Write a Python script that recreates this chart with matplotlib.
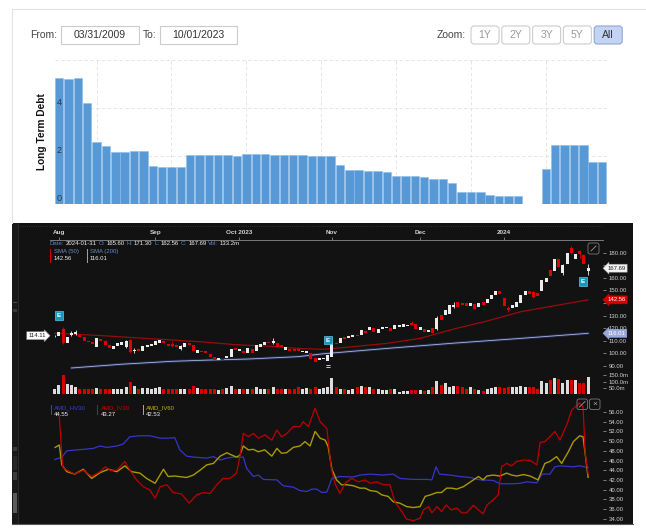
import matplotlib
matplotlib.use("Agg")
import matplotlib.pyplot as plt
import matplotlib.transforms as mtransforms
from matplotlib.patches import FancyBboxPatch
from matplotlib.lines import Line2D
import numpy as np

W, H = 646, 530
plt.rcParams['font.family'] = ['Liberation Sans', 'DejaVu Sans']

# ---------------- top panel: long term debt, one bar per quarter (2009Q1 .. 2023Q3)
debt = [5.25, 5.2, 5.25, 4.22, 2.6, 2.43, 2.18, 2.18, 2.2, 2.2,
        1.57, 1.53, 1.53, 1.53, 2.03, 2.03, 2.03, 2.03, 2.03, 1.99,
        2.07, 2.1, 2.1, 2.03, 2.03, 2.03, 2.03, 2.0, 2.0, 2.0,
        1.62, 1.43, 1.4, 1.37, 1.37, 1.33, 1.18, 1.18, 1.18, 1.11,
        1.04, 1.04, 0.89, 0.5, 0.5, 0.5, 0.38, 0.34, 0.34, 0.34,
        0.02, 0.02, 1.46, 2.46, 2.46, 2.46, 2.46, 1.73, 1.73]
debt_grid_q = [4, 12, 20, 28, 36, 44, 52]
date_from, date_to = "03/31/2009", "10/01/2023"
zoom_btns = ["1Y", "2Y", "3Y", "5Y", "All"]

# ---------------- bottom panel: AMD daily candles, 2023-07-31 .. 2024-01-31
opens = [113.6, 113.9, 119.2, 108.6, 114.4, 115.5, 115.0, 112.8, 110.2, 109.1,
         105.4, 111.2, 109.6, 107.0, 103.3, 106.0, 106.7, 104.9, 110.7, 101.7,
         103.3, 102.2, 105.4, 106.0, 106.5, 108.6, 110.2, 107.5, 107.5, 107.0,
         103.8, 105.4, 108.0, 106.5, 100.7, 102.2, 102.2, 99.6, 97.0, 94.8,
         95.9, 96.4, 97.0, 104.4, 102.2, 102.2, 100.1, 103.3, 101.7, 105.4,
         107.0, 109.1, 108.1, 108.6, 107.0, 102.8, 103.8, 103.8, 103.3, 101.2,
         100.7, 100.7, 96.4, 94.8, 95.5, 93.8, 97.5, 108.6, 108.6, 112.8,
         112.3, 113.4, 114.9, 114.9, 117.5, 118.6, 120.2, 116.5, 119.2, 120.2,
         120.2, 119.2, 121.3, 121.3, 121.8, 124.4, 123.4, 118.6, 119.7, 117.0,
         120.2, 119.2, 130.3, 130.3, 131.3, 136.6, 140.9, 139.8, 139.8, 137.7,
         139.3, 137.2, 140.9, 139.8, 143.5, 146.1, 149.9, 144.3, 136.3, 135.8,
         136.9, 140.0, 146.4, 149.6, 148.5, 148.0, 149.6, 157.0, 166.5, 165.5,
         174.7, 164.1, 170.8, 184.0, 174.7, 181.3, 177.9, 165.6]
closes = [114.1, 117.1, 108.1, 113.4, 116.0, 117.0, 112.8, 109.6, 109.1, 107.3,
          112.0, 109.6, 107.0, 104.1, 106.0, 108.6, 109.4, 109.6, 101.2, 102.5,
          101.7, 106.0, 106.7, 107.5, 109.6, 110.7, 108.1, 106.0, 106.2, 105.4,
          106.0, 108.0, 106.5, 102.2, 103.0, 101.2, 100.2, 97.0, 94.8, 96.4,
          94.8, 98.0, 103.3, 102.8, 103.3, 100.1, 104.4, 100.7, 107.0, 107.5,
          109.1, 108.1, 109.6, 104.9, 105.4, 105.4, 101.7, 102.2, 101.7, 102.2,
          102.2, 95.9, 93.2, 96.4, 96.8, 98.5, 108.1, 107.5, 112.3, 111.2,
          113.9, 114.9, 113.9, 118.6, 116.5, 121.3, 117.0, 119.7, 120.7, 121.3,
          118.1, 122.9, 122.9, 123.4, 122.3, 122.9, 119.7, 121.3, 117.0, 118.6,
          116.0, 128.2, 126.6, 134.5, 138.2, 138.7, 136.6, 138.2, 137.7, 140.3,
          135.0, 140.3, 138.7, 143.5, 146.1, 149.3, 147.2, 137.9, 134.2, 138.5,
          140.6, 146.4, 149.6, 146.9, 145.0, 145.3, 158.6, 160.2, 161.5, 174.7,
          168.9, 170.0, 179.5, 180.0, 178.7, 178.7, 170.8, 167.69]
# visible wicks only: index -> (high, low)
wicks = {0: (114.6, 113.0), 2: (121.0, 107.5), 4: (118.0, 114.0), 5: (118.5, 115.0),
         17: (110.5, 104.0), 18: (111.5, 100.0), 19: (104.0, 100.5), 28: (110.0, 105.5),
         30: (107.0, 102.5), 52: (112.5, 107.5), 85: (126.0, 122.5), 91: (129.5, 118.5),
         95: (140.5, 136.0), 108: (137.5, 133.0), 114: (149.5, 144.0), 121: (171.0, 162.0),
         123: (185.0, 179.0), 125: (182.5, 176.0), 127: (171.3, 162.56)}
volume = [43, 75, 156, 81, 70, 54, 43, 43, 43, 43,
          48, 43, 43, 43, 43, 38, 38, 54, 97, 64,
          43, 48, 48, 43, 48, 54, 43, 43, 43, 38,
          38, 38, 43, 64, 48, 43, 43, 43, 43, 32,
          43, 48, 64, 38, 43, 43, 38, 43, 54, 43,
          38, 43, 54, 43, 38, 43, 38, 38, 54, 43,
          48, 43, 54, 38, 48, 60, 129, 59, 43, 38,
          32, 38, 54, 64, 54, 54, 43, 38, 32, 32,
          38, 43, 16, 21, 27, 32, 32, 32, 27, 32,
          54, 102, 75, 86, 59, 64, 64, 59, 38, 54,
          43, 32, 27, 38, 48, 54, 54, 48, 54, 59,
          59, 64, 54, 59, 54, 43, 102, 91, 113, 129,
          118, 86, 113, 113, 113, 86, 91, 133.2]

sma50_idx = [0, 5, 12, 20, 28, 36, 43, 51, 58, 64, 71, 79, 87, 95, 103, 111, 119, 127]
sma50 = [116.0, 115.3, 114.0, 112.3, 110.7, 109.0, 107.0, 105.8, 104.0, 103.3,
         105.4, 108.0, 112.0, 119.4, 125.8, 133.2, 137.9, 142.56]
sma200_idx = [4, 16, 28, 37, 46, 58, 64, 79, 95, 111, 127]
sma200 = [88.5, 91.5, 93.8, 94.8, 95.6, 97.5, 99.8, 104.0, 108.2, 112.0, 116.01]

month_idx = [1, 24, 44, 66, 87, 107]
month_lbl = ["Aug", "Sep", "Oct 2023", "Nov", "Dec", "2024"]
earn_idx = [1, 65, 125.8]
earn_px = [130.2, 110.7, 157.3]

hv30_x = [0, 1.7, 2.9, 6.8, 9.2, 10.8, 12.4, 14.8, 16.3, 17.9, 20.3, 22.7, 25.1, 26.7,
          28.6, 29.8, 31.4, 33, 36.2, 37.8, 39.4, 41, 42.5, 44.9, 45.7, 47.3, 48.5, 49.7,
          52.9, 54.4, 56.8, 58.4, 60, 61.2, 62.4, 63.6, 64.8, 66, 67.9, 71.1, 72.7, 75.1,
          78.2, 80.6, 82.2, 85.4, 88.6, 89.8, 90.8, 91.6, 94.1, 96.5, 98.9, 101.3, 104.4,
          106, 109.2, 110.8, 112.4, 114.8, 116, 117.9, 119.1, 120.3, 123.5, 125, 127]
hv30 = [46.2, 46.7, 48.0, 48.3, 48.5, 49.0, 48.7, 49.0, 49.4, 50.9, 51.1, 51.1, 50.6, 50.6,
        50.7, 48.2, 46.9, 46.7, 46.5, 46.8, 46.1, 46.5, 46.7, 46.7, 44.4, 42.7, 43.0, 42.1,
        42.0, 40.8, 40.5, 39.8, 39.6, 40.1, 40.1, 39.4, 39.5, 42.3, 42.7, 42.6, 43.0, 43.2,
        43.0, 43.2, 42.3, 42.1, 42.1, 42.0, 44.7, 43.2, 43.0, 42.7, 42.5, 42.0, 41.9,
        41.2, 41.2, 41.3, 41.6, 41.4, 43.2, 43.2, 44.7, 44.9, 44.7, 44.9, 44.55]
iv30_x = [1.1, 1.9, 2.9, 4.8, 6.8, 8.8, 10.8, 12, 13.2, 14.8, 16.7, 17.9, 19.5, 21.1, 22.7,
          23.9, 25.1, 26.7, 28.2, 30.2, 32, 33.8, 35.4, 37, 38.6, 40.1, 41.7, 43.3, 44.1,
          44.9, 46.1, 47.3, 48.5, 50, 51.7, 52.9, 54, 55.2, 56.8, 58.4, 59.2, 60.4, 62,
          63.2, 64.8, 65.8, 66.7, 67.9, 69.1, 70.7, 72.3, 73.9, 75.1, 76.7, 78.2, 79.8, 81,
          82.6, 83.8, 85.4, 87, 87.8, 89, 89.8, 91, 92.1, 93.2, 94.5, 95.7, 96.9, 98.1,
          99.7, 100.9, 102, 102.9, 104.4, 105.6, 106.4, 107.6, 108.8, 110, 111.6, 113.2,
          114.8, 115.6, 116.7, 117.9, 119.1, 120.3, 121.9, 123.1, 125, 125.8, 126.3, 127]
iv30 = [55.0, 44.7, 44.0, 43.2, 44.0, 42.7, 43.7, 44.7, 44.0, 44.0, 45.8, 44.0, 42.0, 40.6,
        39.9, 38.2, 40.6, 41.0, 39.4, 39.1, 37.2, 38.9, 39.4, 39.2, 41.0, 42.3, 42.3, 43.4,
        46.8, 51.6, 50.9, 51.6, 50.6, 51.3, 50.2, 52.3, 50.9, 51.5, 53.0, 53.0, 54.0, 53.0,
        56.8, 54.0, 52.6, 44.7, 41.3, 39.2, 41.3, 42.3, 41.6, 42.0, 41.3, 41.6, 41.0, 41.0,
        37.5, 35.5, 33.9, 33.6, 34.1, 35.8, 36.5, 35.2, 36.5, 35.5, 36.8, 35.8, 36.2, 35.2,
        35.2, 36.8, 35.8, 35.0, 36.8, 37.9, 38.9, 44.7, 45.4, 44.9, 45.8, 46.1, 46.0, 45.1,
        49.7, 49.9, 50.9, 52.0, 50.2, 53.3, 56.4, 57.9, 57.1, 47.5, 43.27]
iv60_x = [0.1, 1.1, 1.7, 2.9, 4.8, 6.8, 8.8, 10.8, 12.8, 14.8, 16.7, 18.3, 20.3, 21.9, 23.9,
          25.9, 27, 28.6, 31.4, 33, 34.6, 36.2, 37.8, 39.4, 41, 41.7, 43.3, 44.1, 44.9, 46.1,
          47.3, 48.5, 50, 51.7, 52.9, 54, 55.2, 56.8, 58.4, 59.6, 60.8, 62, 63.2, 64.4, 65.1,
          66, 67.1, 68.3, 69.5, 71.1, 72.7, 73.9, 75.1, 76.7, 77.9, 79.4, 80.6, 82.2, 83.8,
          85.4, 87, 88.2, 89.4, 91, 92.1, 93.3, 94.5, 95.7, 97.3, 98.5, 99.7, 100.9, 102,
          102.9, 104.4, 106, 107.6, 108.8, 110, 111.6, 113.2, 115.1, 116.7, 117.9, 119.5,
          120.7, 122.3, 123.5, 125, 125.8, 127]
iv60 = [48.7, 49.2, 45.1, 43.7, 43.2, 44.2, 42.3, 43.5, 44.2, 43.7, 44.9, 43.7, 43.4, 42.3,
        41.3, 44.2, 42.7, 42.8, 42.5, 43.0, 44.0, 45.1, 45.4, 46.9, 47.6, 47.3, 46.7, 47.1,
        49.0, 48.2, 48.3, 47.8, 48.2, 46.9, 48.5, 47.5, 47.6, 48.7, 49.0, 49.9, 49.0, 52.0,
        50.6, 50.2, 48.9, 44.2, 42.0, 41.0, 41.0, 40.8, 40.3, 40.3, 39.8, 39.6, 38.9, 38.6,
        37.5, 37.2, 36.5, 36.3, 36.5, 38.6, 38.9, 39.4, 39.4, 40.3, 40.3, 40.1, 40.6, 41.3,
        42.0, 42.7, 42.0, 42.8, 43.0, 42.8, 43.4, 43.0, 42.8, 43.1, 42.8, 42.0, 45.4, 45.8,
        46.8, 45.4, 47.8, 49.9, 51.1, 50.9, 42.53]

# ===================================
fig = plt.figure(figsize=(W / 100, H / 100), dpi=100)
fig.patch.set_facecolor("white")
# pixel coordinates, y pointing down
PX = mtransforms.Affine2D().scale(0.01, -0.01).translate(0, H * 0.01) + fig.dpi_scale_trans


def box(x0, y0, x1, y1):
    return [x0 / W, 1 - y1 / H, (x1 - x0) / W, (y1 - y0) / H]


def prect(x, y, w, h, round_=0, **kw):
    style = f"round,pad=0,rounding_size={round_}" if round_ else "square,pad=0"
    p = FancyBboxPatch((x, y), w, h, boxstyle=style, transform=PX, **kw)
    fig.add_artist(p)
    return p


def ptext(x, y, s, **kw):
    return fig.text(x, y, s, transform=PX, **kw)


def right_axis(ax, ticks, labels):
    for s in ax.spines.values():
        s.set_visible(False)
    ax.patch.set_alpha(0)
    ax.set_xticks([])
    ax.yaxis.tick_right()
    ax.set_yticks(ticks)
    ax.set_yticklabels(labels)
    ax.tick_params(axis="y", length=2.2, width=0.5, color="#aaaaaa", labelcolor=LBL,
                   labelsize=4.3, pad=2)


# ---------- white header
fig.add_artist(Line2D([12, W], [9, 9], transform=PX, color="#e2e2e2", lw=0.8))
fig.add_artist(Line2D([12, 12], [9, 223], transform=PX, color="#e2e2e2", lw=0.8))
ptext(30, 35, "From:", fontsize=7.5, color="#444", va="center")
prect(61, 26, 78, 18, fc="white", ec="#cccccc", lw=0.8)
ptext(100, 35, date_from, fontsize=7.5, color="#333", va="center", ha="center")
ptext(143, 35, "To:", fontsize=7.5, color="#444", va="center")
prect(160, 26, 77, 18, fc="white", ec="#cccccc", lw=0.8)
ptext(198.5, 35, date_to, fontsize=7.5, color="#333", va="center", ha="center")
ptext(437, 35, "Zoom:", fontsize=7.5, color="#444", va="center")
for k, lbl in enumerate(zoom_btns):
    x0 = 471 + k * 30.8
    sel = lbl == "All"
    prect(x0, 26, 28, 18, round_=3, fc="#c3d3f2" if sel else "white",
          ec="#8ea6d8" if sel else "#cccccc", lw=0.8)
    ptext(x0 + 14, 35, lbl, fontsize=7.5, color="#333" if sel else "#9a9a9a",
          va="center", ha="center")

# ---------- debt bar chart
axb = fig.add_axes(box(54.5, 60, 606.7, 204))
axb.set_xlim(-0.5, 58.5)
axb.set_ylim(0, 6)
axb.axis("off")
q = np.arange(len(debt))
axb.hlines([2, 4, 6], -0.5, 58.5, colors="#e0e0e0", linestyles=(0, (4, 3)), lw=0.6, zorder=0)
axb.vlines(debt_grid_q, 0, 6, colors="#e0e0e0", linestyles=(0, (4, 3)), lw=0.6, zorder=0)
axb.bar(q, debt, width=0.9, color="#5799d6", edgecolor="#8cbbe7", lw=0.4, zorder=2)
for v in (0, 2, 4):
    axb.text(-0.25, v + 0.05, str(v), fontsize=6.5, color="#333", va="bottom", ha="left", zorder=3)
ptext(42, 132, "Long Term Debt", rotation=90, fontsize=7.3, fontweight="bold",
      ha="center", va="center", color="#111")

# ---------- dark stock chart
BG = "#121212"
LBL = "#d0d0d0"
prect(12, 223, 621, 301, fc=BG, ec="none", zorder=-5)
prect(12, 223, 5.5, 301, fc="#191919", ec="none", zorder=-4)
fig.add_artist(Line2D([17.5, 17.5], [223, 524], transform=PX, color="#2e2e2e", lw=0.6))
for (y0, hh, c) in [(301.5, 1, "#4a4a4a"), (309, 3, "#3a3a3a"), (447, 4, "#3a3a3a"),
                    (456, 14, "#262626"), (472, 8, "#3c3c3c"), (493, 20, "#5a5a5a")]:
    prect(12.5, y0, 4, hh, fc=c, ec="none")
fig.add_artist(Line2D([12, 633], [523.5, 523.5], transform=PX, color="#5a5a5a", lw=0.8))

XL = (-8.26, 130.55)
WHITE_C, RED_C = "#ececec", "#e00000"
opens_a, closes_a = np.array(opens), np.array(closes)
idx = np.arange(len(opens))
up = closes_a >= opens_a
col = np.where(up, WHITE_C, RED_C)

# top time axis
axt = fig.add_axes(box(20, 226, 603, 240))
axt.set_xlim(*XL)
axt.set_ylim(0, 1)
axt.axis("off")
axt.plot([-1.1, XL[1]], [0, 0], color="#8a8a8a", lw=0.6, clip_on=False)
axt.plot(XL, [1, 1], color="#3a3a3a", lw=0.6, ls=":")
axt.vlines(month_idx, 0, 0.22, colors="#8a8a8a", lw=0.6)
for i, lbl in zip(month_idx, month_lbl):
    axt.text(i, 0.55, lbl, ha="center", va="center", fontsize=4.6, color=LBL, fontweight="bold")

# price panel (labels hidden behind the last-value boxes are left out)
axp = fig.add_axes(box(20, 245, 603, 370))
axp.set_xlim(*XL)
axp.set_ylim(86.9, 186.1)
pt = list(range(90, 181, 10))
right_axis(axp, pt, ["" if v in (140, 170) else f"{v:.2f}" for v in pt])

axp.plot(sma200_idx, sma200, color="#34428c", lw=2.0, alpha=0.5, zorder=1)
axp.plot(sma200_idx, sma200, color="#aab4dc", lw=0.6, zorder=1.1)
axp.plot(sma50_idx, sma50, color="#960c0c", lw=0.9, zorder=1.2)

for i, (hi, lo) in wicks.items():
    axp.vlines(i, lo, hi, color=col[i], lw=0.6, zorder=2)
body_lo = np.minimum(opens_a, closes_a)
body_h = np.maximum(np.abs(closes_a - opens_a), 0.5)
axp.bar(idx, body_h, bottom=body_lo, width=0.7, color=col, lw=0, zorder=3)

for i, p in zip(earn_idx, earn_px):
    axp.text(i, p, "E", ha="center", va="center", fontsize=4.6, fontweight="bold",
             color="white", zorder=6,
             bbox=dict(boxstyle="square,pad=0.3", fc="#1796be", ec="#5cc8ea", lw=0.5))
axp.text(65, 89.8, "=", ha="center", va="center", fontsize=6, color="white",
         fontweight="bold", clip_on=False, zorder=6)

# last values on the price scale
for val, fc, tc, ec in [(167.69, "#f4f4f4", "#222", "#999"), (142.56, "#d40000", "white", "#d40000"),
                        (116.01, "#9aa8dc", "white", "#9aa8dc")]:
    axp.text(131.6, val, f"{val:.2f}", ha="left", va="center", fontsize=4.3, color=tc,
             clip_on=False, zorder=7,
             bbox=dict(boxstyle="larrow,pad=0.25", fc=fc, ec=ec, lw=0.4))
axp.text(-6.3, 114.11, "114.11", ha="left", va="center", fontsize=4.3, color="#222",
         clip_on=False, zorder=7,
         bbox=dict(boxstyle="rarrow,pad=0.25", fc="white", ec="#888", lw=0.4))

# expand icon
prect(588, 243, 11, 11, round_=2, fc="none", ec="#7a7a7a", lw=0.6)
fig.add_artist(Line2D([591, 596], [251, 246], transform=PX, color="#9a9a9a", lw=0.6))

# info line with date / OHLC
rend = fig.canvas.get_renderer()
parts = [("Date:", 1), ("2024-01-31", 0), ("O:", 1), ("165.60", 0), ("H:", 1), ("171.30", 0),
         ("L:", 1), ("162.56", 0), ("C:", 1), ("167.69", 0), ("Vol:", 1), ("133.2m", 0)]
xx = 49.5
for s, is_lbl in parts:
    t = ptext(xx, 243.5, s, fontsize=4.3, color="#5b86c8" if is_lbl else "#f0f0f0",
              va="center", ha="left")
    xx += t.get_window_extent(renderer=rend).width + 1.7

# SMA legend
for x0, c, name, val in [(50, "#d00000", "SMA (50)", "142.56"), (86.5, "#8f9fd0", "SMA (200)", "116.01")]:
    prect(x0, 248.5, 1.4, 14, fc=c, ec="none")
    ptext(x0 + 3.5, 251.5, name, fontsize=4.3, color="#6a8cc8", va="center")
    ptext(x0 + 3.5, 259, val, fontsize=4.3, color="#f0f0f0", va="center")

# volume panel
axv = fig.add_axes(box(20, 368, 603, 394))
axv.set_xlim(*XL)
axv.set_ylim(0, 209.6)
right_axis(axv, [50, 100, 150], ["50.0m", "100.0m", "150.0m"])
axv.bar(idx, volume, width=0.7, color=np.where(up, "#dcdcdc", "#d80000"), lw=0)

# volatility panel
axi = fig.add_axes(box(20, 398, 603, 522))
axi.set_xlim(*XL)
axi.set_ylim(33.32, 58.89)
it = list(range(34, 57, 2))
right_axis(axi, it, [f"{v:.2f}" for v in it])
axi.plot(hv30_x, hv30, color="#3535cc", lw=0.9)
axi.plot(iv60_x, iv60, color="#aa9a00", lw=1.0)
axi.plot(iv30_x, iv30, color="#bf0000", lw=0.9)

for x0, c, name, val in [(50.5, "#3c3cd8", "AMD_HV30", "44.55"), (97, "#d00000", "AMD_IV30", "43.27"),
                         (142.5, "#c8b400", "AMD_IV60", "42.53")]:
    prect(x0, 405, 1.4, 10, fc=c, ec="none")
    ptext(x0 + 3.5, 407.5, name, fontsize=4.3, color=c, va="center")
    ptext(x0 + 3.5, 414.5, val, fontsize=4.3, color="#f0f0f0", va="center")

prect(577, 399, 10.5, 10.5, round_=2, fc="none", ec="#7a7a7a", lw=0.6)
fig.add_artist(Line2D([579.5, 585], [407, 401.5], transform=PX, color="#9a9a9a", lw=0.6))
prect(589.5, 399, 10.5, 10.5, round_=2, fc="none", ec="#7a7a7a", lw=0.6)
ptext(594.75, 404.5, "×", fontsize=6, color="#aaaaaa", ha="center", va="center")

fig.savefig("out.png", dpi=100, facecolor=fig.get_facecolor())
